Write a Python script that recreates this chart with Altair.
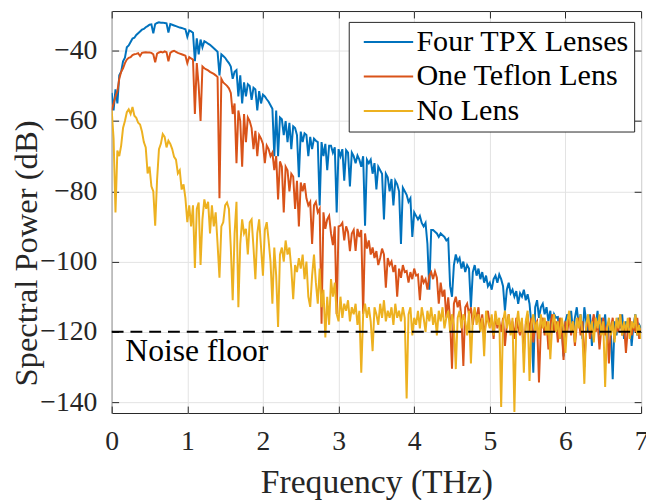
import altair as alt
import pandas as pd

# ---------------- data ----------------
freq = [
    0.000, 0.025, 0.050, 0.075, 0.100, 0.125, 0.150, 0.175, 0.200, 0.225,
    0.250, 0.275, 0.300, 0.325, 0.350, 0.375, 0.400, 0.425, 0.450, 0.475,
    0.500, 0.525, 0.550, 0.575, 0.600, 0.625, 0.650, 0.675, 0.700, 0.725,
    0.750, 0.775, 0.800, 0.825, 0.850, 0.875, 0.900, 0.925, 0.950, 0.975,
    1.000, 1.025, 1.050, 1.075, 1.100, 1.125, 1.150, 1.175, 1.200, 1.225,
    1.250, 1.275, 1.300, 1.325, 1.350, 1.375, 1.400, 1.425, 1.450, 1.475,
    1.500, 1.525, 1.550, 1.575, 1.600, 1.625, 1.650, 1.675, 1.700, 1.725,
    1.750, 1.775, 1.800, 1.825, 1.850, 1.875, 1.900, 1.925, 1.950, 1.975,
    2.000, 2.025, 2.050, 2.075, 2.100, 2.125, 2.150, 2.175, 2.200, 2.225,
    2.250, 2.275, 2.300, 2.325, 2.350, 2.375, 2.400, 2.425, 2.450, 2.475,
    2.500, 2.525, 2.550, 2.575, 2.600, 2.625, 2.650, 2.675, 2.700, 2.725,
    2.750, 2.775, 2.800, 2.825, 2.850, 2.875, 2.900, 2.925, 2.950, 2.975,
    3.000, 3.025, 3.050, 3.075, 3.100, 3.125, 3.150, 3.175, 3.200, 3.225,
    3.250, 3.275, 3.300, 3.325, 3.350, 3.375, 3.400, 3.425, 3.450, 3.475,
    3.500, 3.525, 3.550, 3.575, 3.600, 3.625, 3.650, 3.675, 3.700, 3.725,
    3.750, 3.775, 3.800, 3.825, 3.850, 3.875, 3.900, 3.925, 3.950, 3.975,
    4.000, 4.025, 4.050, 4.075, 4.100, 4.125, 4.150, 4.175, 4.200, 4.225,
    4.250, 4.275, 4.300, 4.325, 4.350, 4.375, 4.400, 4.425, 4.450, 4.475,
    4.500, 4.525, 4.550, 4.575, 4.600, 4.625, 4.650, 4.675, 4.700, 4.725,
    4.750, 4.775, 4.800, 4.825, 4.850, 4.875, 4.900, 4.925, 4.950, 4.975,
    5.000, 5.025, 5.050, 5.075, 5.100, 5.125, 5.150, 5.175, 5.200, 5.225,
    5.250, 5.275, 5.300, 5.325, 5.350, 5.375, 5.400, 5.425, 5.450, 5.475,
    5.500, 5.525, 5.550, 5.575, 5.600, 5.625, 5.650, 5.675, 5.700, 5.725,
    5.750, 5.775, 5.800, 5.825, 5.850, 5.875, 5.900, 5.925, 5.950, 5.975,
    6.000, 6.025, 6.050, 6.075, 6.100, 6.125, 6.150, 6.175, 6.200, 6.225,
    6.250, 6.275, 6.300, 6.325, 6.350, 6.375, 6.400, 6.425, 6.450, 6.475,
    6.500, 6.525, 6.550, 6.575, 6.600, 6.625, 6.650, 6.675, 6.700, 6.725,
    6.750, 6.775, 6.800, 6.825, 6.850, 6.875, 6.900, 6.925, 6.950, 6.975,
    7.000,
]

tpx_db = [
    -52, -57, -51, -55, -47, -46, -43, -42, -39, -38.5,
    -37.5, -36.5, -36.3, -35.5, -35, -34.5, -34, -33.8, -33.3, -33,
    -32.6, -32.5, -35, -32.4, -32.1, -31.9, -32, -32, -32.1, -32.2,
    -34.8, -32.4, -32.6, -32.8, -33, -33.2, -33.4, -33.5, -33.7, -33.9,
    -36, -34.2, -34.5, -34.9, -43, -36.5, -41, -36.8, -39, -37.3,
    -37.6, -38, -38.3, -38.8, -39.3, -39.8, -40.3, -47, -41, -41.5,
    -42, -42.8, -43.5, -44.5, -48, -46, -45.5, -53, -47, -55,
    -49, -53, -49.5, -50, -54, -50.5, -51, -57, -51.5, -55,
    -52.5, -53, -53.8, -54.5, -55.5, -56.5, -70, -57, -70, -59,
    -59.5, -64, -60, -66, -60.5, -68, -61.5, -62, -64, -76,
    -63, -66, -63.5, -64, -70, -64.5, -68, -65, -65.6, -66,
    -84, -66, -70, -66.5, -74, -67, -67, -69, -67.5, -86,
    -68, -70, -68, -77, -68.3, -69, -78.6, -69, -70, -72,
    -69.8, -71, -73, -70, -89.8, -71, -72, -71, -75, -72,
    -79.5, -73, -74, -75, -88, -75, -76, -80, -76.5, -84,
    -77, -78, -80, -95, -79, -80, -81, -83, -82, -93,
    -86, -87, -88, -87, -89, -90, -89, -95, -108, -91,
    -91, -91.5, -92, -93, -92, -92.5, -93, -94, -93.5, -107,
    -110, -101, -98, -100, -99, -102, -100, -103, -101, -102,
    -113, -103, -101, -104, -102, -105, -103, -106, -104, -107,
    -106, -108, -105, -104, -106, -103.7, -105, -107, -114, -108,
    -106, -109, -108, -110, -108.4, -112, -109, -110, -108, -111,
    -109.3, -112, -118, -131.6, -113, -111, -116, -113, -112, -115,
    -113, -117, -114, -119, -115, -116, -115.8, -122, -118, -127,
    -117, -115, -118, -114, -120, -116, -113, -118, -115, -122,
    -113, -117, -120, -115, -124, -116, -118, -114, -121, -116,
    -119, -115, -123, -117, -120, -133.5, -117, -121, -116, -119,
    -115, -122, -117, -120, -116, -124, -118, -115, -121, -118,
    -119,
]

teflon_db = [
    -57, -55, -53, -51.5, -48, -46, -45, -43.5, -42.5, -42,
    -41.8, -41.2, -41, -40.9, -40.7, -41.5, -40.6, -40.5, -40.4, -40.5,
    -40.5, -40.6, -41, -43.3, -40.8, -40.5, -40.3, -40.5, -40.2, -40.4,
    -43, -40.6, -40.2, -40, -40.3, -40.6, -40.8, -41, -41.2, -41.4,
    -43.5, -41.8, -42.2, -42.5, -58, -43.5, -50, -60, -44.5, -45,
    -45.3, -45.6, -46, -46.3, -46.6, -47, -47.5, -82, -48, -49,
    -49.5, -50, -50.7, -52, -58, -55, -72, -57, -60, -73,
    -58, -66, -59, -60, -62, -68, -62.8, -70, -64, -65,
    -66.5, -72, -67, -68, -70, -69, -74, -70, -82.3, -71.5,
    -73, -86, -73, -74, -80, -75, -75.8, -85, -77, -90,
    -77.5, -80, -77.7, -82, -84, -83, -95, -84, -83, -86,
    -85, -117.7, -86, -90.7, -88, -87, -92, -95.3, -90, -114.9,
    -90, -89.8, -89, -94, -90, -91.6, -97, -92, -91, -97,
    -90.7, -93, -91, -114.9, -92, -96.3, -94, -98, -96, -99,
    -97, -101, -99, -96.3, -98, -107.4, -99, -101, -100, -103,
    -101, -110, -102, -104.6, -101, -103, -102.7, -106, -103, -105,
    -102, -104, -103.7, -111, -104, -106, -105, -108, -104, -103,
    -105, -102.8, -104.6, -112, -106, -110, -108, -116, -110.2, -116.6,
    -130.5, -112, -110, -113, -111, -116, -129.7, -113, -112, -115,
    -113, -118, -114, -116, -113, -119, -115, -121, -117, -114,
    -118, -116, -122, -115, -119, -117, -120, -116, -124, -118,
    -115, -120, -117, -122, -116, -119, -121, -117, -126, -118,
    -115, -120, -116, -123, -118, -117, -134.4, -119, -116, -121,
    -117, -125, -118, -115, -120, -117, -123, -116, -119, -128,
    -117, -120, -115, -121, -117, -124, -118, -116, -121, -117,
    -130, -119, -116, -122, -118, -115, -120, -117, -125, -119,
    -116, -121, -118, -129, -119, -116, -122, -118, -120, -115,
    -121, -118, -126, -119, -116, -121, -118, -120, -116, -122,
    -119,
]

nolens_db = [
    -57, -65, -86, -68.4, -70, -67, -62, -60, -57.5, -56.7,
    -58, -56, -58.5, -59.1, -60.5, -61, -63, -66, -67.5, -74.9,
    -73, -78.6, -80, -89.8, -76.7, -68, -66.5, -63.7, -64.5, -67.5,
    -65.6, -66.5, -68, -70.2, -71, -74.9, -74, -79.5, -78, -82,
    -88.8, -84, -90, -84, -101.8, -85, -83.2, -101, -88, -82.3,
    -85, -83, -92, -84, -90, -86, -95, -104.6, -90, -88.8,
    -84, -83.2, -85, -96, -111, -92, -83, -113, -95, -88,
    -92, -90.7, -98, -88.8, -88, -96, -105, -92, -88, -96,
    -104, -91, -88.8, -94, -100, -112, -96, -104, -118.6, -98,
    -96, -100, -94, -98, -96, -102, -110.7, -101, -103, -99,
    -102, -98, -105, -100, -110, -112.9, -104, -98, -106, -112,
    -102, -113, -108, -121.6, -110, -118, -105, -110, -106, -114.9,
    -117, -110, -116, -112, -114, -111, -117, -113, -115, -112,
    -118, -114, -131.6, -115, -112, -116, -113, -117, -125.5, -113,
    -115, -118, -112, -116, -111, -117, -114, -116, -113, -118,
    -112, -116, -114, -117, -113, -116, -139, -115, -113, -121,
    -116, -118, -114, -119, -113, -116, -120, -114, -117, -113,
    -118, -115, -121, -114, -117, -113, -119, -116, -114, -120,
    -115, -118, -130.6, -116, -114, -119, -115, -117, -121, -114,
    -129, -116, -113, -118, -115, -120, -116, -126.9, -114, -117,
    -119, -115, -121, -114, -118, -116, -141.4, -117, -114, -119,
    -115, -121, -116, -142.8, -118, -114, -120, -116, -131.6, -117,
    -114, -134, -118, -115, -120, -117, -122, -115, -119, -116,
    -121, -117, -127.8, -118, -115, -120, -117, -122, -116, -119,
    -126, -117, -114, -120, -117, -123, -116, -119, -115, -121,
    -134.8, -118, -115, -120, -117, -123, -116, -119, -115, -121,
    -117, -135.7, -119, -116, -121, -117, -123, -116, -119, -115,
    -121, -117, -120, -116, -122, -117, -119, -115, -121, -118,
    -122,
]

series_names = ["Four TPX Lenses", "One Teflon Lens", "No Lens"]
series_colors = ["#0072BD", "#D95319", "#EDB120"]
x_ticks = [0, 1, 2, 3, 4, 5, 6, 7]
y_ticks = [-140, -120, -100, -80, -60, -40]
x_domain = [0, 7]
y_domain = [-143.1, -28.7]
noise_floor_db = [-120]
noise_label = ["Noise floor"]
noise_label_freq = [0.18]
noise_label_db = [-125.6]

# ---------------- tables ----------------
rows = []
for name, vals in zip(series_names, [tpx_db, teflon_db, nolens_db]):
    for f, v in zip(freq, vals):
        rows.append({"freq": f, "db": v, "series": name})
df = pd.DataFrame(rows)

floor_df = pd.DataFrame({"x0": [x_domain[0]], "x1": [x_domain[1]], "y": noise_floor_db})
text_df = pd.DataFrame({"x": noise_label_freq, "y": noise_label_db, "label": noise_label})

FONT = "Liberation Serif"
INK = "#262626"
TICK_IN = {"expr": "-7"}

xs = alt.Scale(domain=x_domain, nice=False, zero=False)
ys = alt.Scale(domain=y_domain, nice=False, zero=False)
cs = alt.Scale(domain=series_names, range=series_colors)

x_main = alt.Axis(values=x_ticks, format="d", grid=True, gridColor="#e3e3e3", gridWidth=1,
                  domain=False, ticks=True, tickSize=TICK_IN, tickColor=INK, tickWidth=1,
                  labelFont=FONT, labelFontSize=28, labelFontWeight="normal",
                  labelColor=INK, labelPadding=22,
                  labelFlush=False, labelOverlap=False,
                  titleFont=FONT, titleFontSize=34, titleFontWeight="normal", titleColor=INK,
                  titleY=70, titleBaseline="middle")
y_main = alt.Axis(values=y_ticks, format="d", grid=True, gridColor="#e3e3e3", gridWidth=1,
                  domain=False, ticks=True, tickSize=TICK_IN, tickColor=INK, tickWidth=1,
                  labelFont=FONT, labelFontSize=28, labelFontWeight="normal",
                  labelColor=INK, labelPadding=22,
                  labelFlush=False, labelOverlap=False,
                  titleFont=FONT, titleFontSize=33, titleFontWeight="normal", titleColor=INK,
                  titleX=-86, titleY=245, titleBaseline="middle", titleAngle=270,
                  titleAlign="center")
x_top = alt.Axis(orient="top", values=x_ticks, labels=False, grid=False, domain=False,
                 ticks=True, tickSize=TICK_IN, tickColor=INK, tickWidth=1)
y_right = alt.Axis(orient="right", values=y_ticks, labels=False, grid=False, domain=False,
                   ticks=True, tickSize=TICK_IN, tickColor=INK, tickWidth=1)

legend = alt.Legend(orient="none", legendX=240, legendY=11, fillColor="white",
                    strokeColor=INK, padding=5, cornerRadius=0,
                    symbolType="M-5,0H5", symbolSize=100, symbolStrokeWidth=2,
                    symbolOffset=20, labelOffset=13, rowPadding=4,
                    labelFont=FONT, labelFontSize=30.5, labelFontWeight="normal",
                    labelColor="black", labelLimit=400)

base = alt.Chart(df)


def line_layer(i):
    name = series_names[i]
    if i == 0:
        x = alt.X("freq:Q", scale=xs, axis=x_main, title="Frequency (THz)")
        y = alt.Y("db:Q", scale=ys, axis=y_main, title="Spectral Power (dB)")
    else:
        x = alt.X("freq:Q", scale=xs, axis=None)
        y = alt.Y("db:Q", scale=ys, axis=None)
    return base.transform_filter(alt.datum.series == name).mark_line(
        strokeWidth=2, clip=True
    ).encode(
        x=x, y=y,
        color=alt.Color("series:N", scale=cs, legend=legend, title=None),
    )


rule = alt.Chart(floor_df).mark_rule(color="black", strokeDash=[12, 7], strokeWidth=2).encode(
    x=alt.X("x0:Q", scale=xs, axis=x_top, title=None),
    x2="x1:Q",
    y=alt.Y("y:Q", scale=ys, axis=y_right, title=None),
)

text = alt.Chart(text_df).mark_text(align="left", baseline="middle", font=FONT,
                                    fontSize=32, fontWeight="normal", color="black").encode(
    x=alt.X("x:Q", scale=xs, axis=None),
    y=alt.Y("y:Q", scale=ys, axis=None),
    text="label:N",
)

chart = alt.layer(line_layer(0), line_layer(1), line_layer(2), rule, text).resolve_axis(
    x="independent", y="independent"
).properties(
    width=536, height=407,
    padding={"left": 105, "top": 0, "right": 5, "bottom": 85},
    autosize=alt.AutoSizeParams(type="none"),
    background="white",
).configure(
    font=FONT
).configure_axis(
    labelFont=FONT, titleFont=FONT
).configure_legend(
    labelFont=FONT, titleFont=FONT
).configure_text(
    font=FONT
).configure_view(stroke=INK, strokeWidth=1)

chart.save("out.html", embed_options={"renderer": "svg", "actions": False})
